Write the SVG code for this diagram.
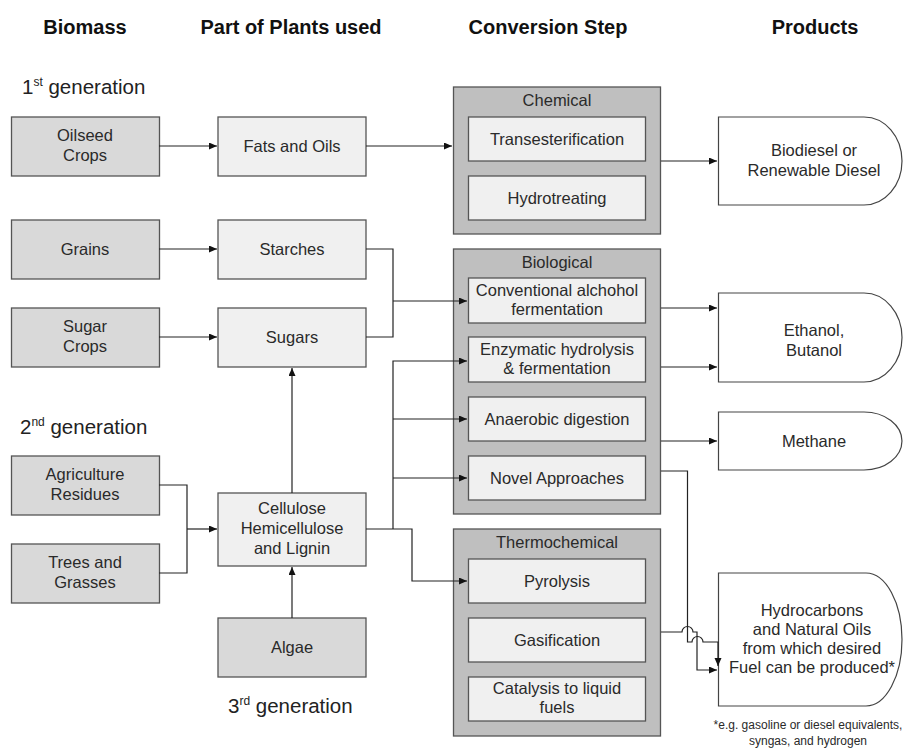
<svg xmlns="http://www.w3.org/2000/svg" width="905" height="749" viewBox="0 0 905 749">
<style>
text{font-family:"Liberation Sans",Arial,sans-serif;fill:#2a2a2a;font-size:16.5px;text-anchor:middle}
.h{font-weight:bold;font-size:20px;fill:#111}
.gen{font-size:20.5px;text-anchor:start;fill:#222}
.sup{font-size:12px}
.fn{font-size:12px}
.bio{fill:#d9d9d9;stroke:#555;stroke-width:1.3}
.part{fill:#f0f0f0;stroke:#555;stroke-width:1.3}
.outer{fill:#bfbfbf;stroke:#555;stroke-width:1.3}
.inner{fill:#f0f0f0;stroke:#555;stroke-width:1.3}
.prod{fill:#fff;stroke:#444;stroke-width:1.2}
.c{fill:none;stroke:#222;stroke-width:1.2}
</style>
<defs>
<marker id="a" markerUnits="userSpaceOnUse" markerWidth="9" markerHeight="8" refX="8" refY="3.5" orient="auto"><path d="M0,0 L8,3.5 L0,7 z" fill="#111"/></marker>
</defs>

<g id="headers">
<text class="h" x="85" y="34">Biomass</text>
<text class="h" x="291" y="34">Part of Plants used</text>
<text class="h" x="548" y="34">Conversion Step</text>
<text class="h" x="815" y="34">Products</text>
<text class="gen" x="22" y="94">1<tspan class="sup" dy="-8">st</tspan><tspan dy="8"> generation</tspan></text>
<text class="gen" x="20" y="434">2<tspan class="sup" dy="-8">nd</tspan><tspan dy="8"> generation</tspan></text>
<text class="gen" x="228" y="713">3<tspan class="sup" dy="-8">rd</tspan><tspan dy="8"> generation</tspan></text>
</g>

<g id="oilseed"><rect class="bio" x="11.5" y="117" width="148" height="59"/><text x="85" y="141">Oilseed</text><text x="85" y="161">Crops</text></g>
<g id="grains"><rect class="bio" x="11.5" y="220" width="148" height="59"/><text x="85" y="255">Grains</text></g>
<g id="sugarcrops"><rect class="bio" x="11.5" y="308" width="148" height="59"/><text x="85" y="332">Sugar</text><text x="85" y="352">Crops</text></g>
<g id="agri"><rect class="bio" x="11.5" y="456" width="148" height="59"/><text x="85" y="480">Agriculture</text><text x="85" y="500">Residues</text></g>
<g id="trees"><rect class="bio" x="11.5" y="544" width="148" height="59"/><text x="85" y="568">Trees and</text><text x="85" y="588">Grasses</text></g>
<g id="algae"><rect class="bio" x="218" y="618" width="148" height="59"/><text x="292" y="653">Algae</text></g>

<g id="fats"><rect class="part" x="218" y="117" width="148" height="59"/><text x="292" y="152">Fats and Oils</text></g>
<g id="starches"><rect class="part" x="218" y="220" width="148" height="59"/><text x="292" y="255">Starches</text></g>
<g id="sugars"><rect class="part" x="218" y="308" width="148" height="59"/><text x="292" y="343">Sugars</text></g>
<g id="cellulose"><rect class="part" x="218" y="493" width="148" height="73"/><text x="292" y="514">Cellulose</text><text x="292" y="534">Hemicellulose</text><text x="292" y="554">and Lignin</text></g>

<g id="chemical">
<rect class="outer" x="453.5" y="87" width="207" height="147"/>
<text x="557" y="106">Chemical</text>
<rect class="inner" x="468.5" y="117" width="177" height="44"/><text x="557" y="145">Transesterification</text>
<rect class="inner" x="468.5" y="176" width="177" height="44"/><text x="557" y="204">Hydrotreating</text>
</g>

<g id="biological">
<rect class="outer" x="453.5" y="249" width="207" height="265"/>
<text x="557" y="268">Biological</text>
<rect class="inner" x="468.5" y="278" width="177" height="45"/><text x="557" y="296">Conventional alchohol</text><text x="557" y="315">fermentation</text>
<rect class="inner" x="468.5" y="337" width="177" height="45"/><text x="557" y="355">Enzymatic hydrolysis</text><text x="557" y="374">&amp; fermentation</text>
<rect class="inner" x="468.5" y="397" width="177" height="44"/><text x="557" y="425">Anaerobic digestion</text>
<rect class="inner" x="468.5" y="456" width="177" height="44"/><text x="557" y="484">Novel Approaches</text>
</g>

<g id="thermochemical">
<rect class="outer" x="453.5" y="529" width="207" height="207"/>
<text x="557" y="548">Thermochemical</text>
<rect class="inner" x="468.5" y="559" width="177" height="44"/><text x="557" y="587">Pyrolysis</text>
<rect class="inner" x="468.5" y="618" width="177" height="44"/><text x="557" y="646">Gasification</text>
<rect class="inner" x="468.5" y="677" width="177" height="44"/><text x="557" y="694">Catalysis to liquid</text><text x="557" y="713">fuels</text>
</g>

<g id="biodiesel"><path class="prod" d="M718.5,117 H864 A38,44 0 0 1 864,205 H718.5 Z"/><text x="814" y="156">Biodiesel or</text><text x="814" y="176">Renewable Diesel</text></g>
<g id="ethanol"><path class="prod" d="M718.5,293 H864 A38,44.5 0 0 1 864,382 H718.5 Z"/><text x="814" y="336">Ethanol,</text><text x="814" y="356">Butanol</text></g>
<g id="methane"><path class="prod" d="M718.5,412 H864 A38,29 0 0 1 864,470 H718.5 Z"/><text x="814" y="447">Methane</text></g>
<g id="hydrocarbons"><path class="prod" d="M718.5,573 H866 A36,66.5 0 0 1 866,706 H718.5 Z"/><text x="812" y="616">Hydrocarbons</text><text x="812" y="635">and Natural Oils</text><text x="812" y="654">from which desired</text><text x="812" y="673">Fuel can be produced*</text></g>

<g id="footnote"><text class="fn" x="808" y="729">*e.g. gasoline or diesel equivalents,</text><text class="fn" x="808" y="745">syngas, and hydrogen</text></g>

<g id="connectors">
<path class="c" d="M159,146 H217" marker-end="url(#a)"/>
<path class="c" d="M366,146 H452" marker-end="url(#a)"/>
<path class="c" d="M159,249 H217" marker-end="url(#a)"/>
<path class="c" d="M159,337 H217" marker-end="url(#a)"/>
<path class="c" d="M366,249 H393 V337 H366"/>
<path class="c" d="M393,301 H467" marker-end="url(#a)" stroke-width="1.6"/>
<path class="c" d="M159,485 H187 V573 H159"/>
<path class="c" d="M187,529 H217" marker-end="url(#a)"/>
<path class="c" d="M292,493 V368" marker-end="url(#a)"/>
<path class="c" d="M292,618 V567" marker-end="url(#a)"/>
<path class="c" d="M366,529 H412 V581 H467" marker-end="url(#a)"/>
<path class="c" d="M393,529 V361 H467" marker-end="url(#a)"/>
<path class="c" d="M393,419 H467" marker-end="url(#a)"/>
<path class="c" d="M393,478 H467" marker-end="url(#a)"/>
<path class="c" d="M661,161 H717" marker-end="url(#a)"/>
<path class="c" d="M661,308 H717" marker-end="url(#a)"/>
<path class="c" d="M661,367 H717" marker-end="url(#a)"/>
<path class="c" d="M661,441 H717" marker-end="url(#a)"/>
<path class="c" d="M661,471 H687.5 V642 H692 A5.5,5.5 0 0 1 703,642 H718 V666" marker-end="url(#a)"/>
<path class="c" d="M661,632 H682 A5.5,5.5 0 0 1 693,632 H697 V670 H717" marker-end="url(#a)"/>
</g>
</svg>
